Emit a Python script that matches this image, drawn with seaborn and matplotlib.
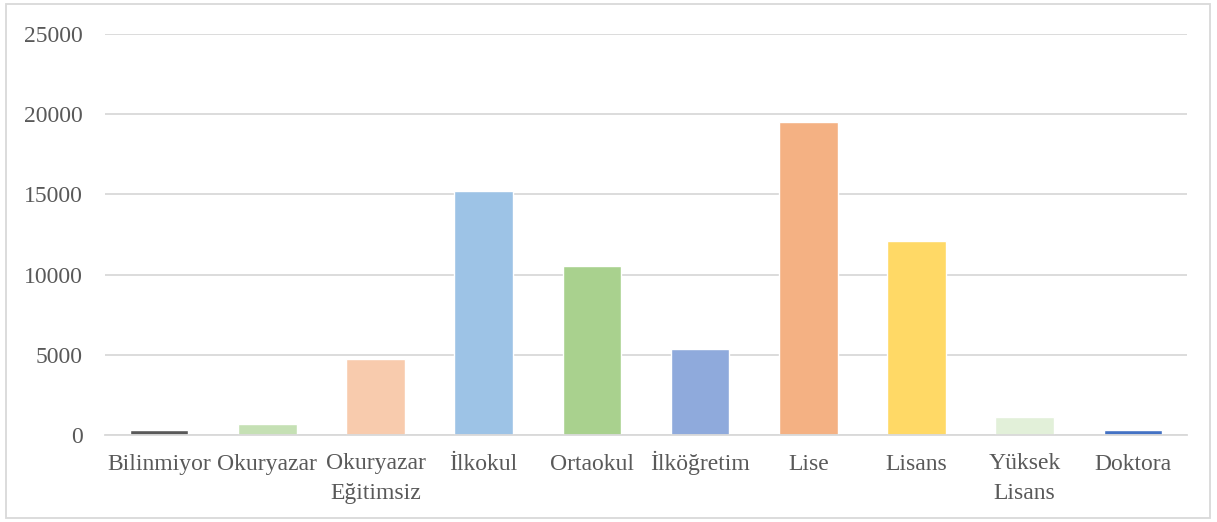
import matplotlib
matplotlib.use("Agg")
import matplotlib.pyplot as plt
import matplotlib.transforms as mtransforms
import seaborn as sns
import pandas as pd
from matplotlib.patches import Rectangle

# veriler
kategoriler = ["Bilinmiyor", "Okuryazar", "Okuryazar\nEğitimsiz", "İlkokul", "Ortaokul",
               "İlköğretim", "Lise", "Lisans", "Yüksek\nLisans", "Doktora"]
degerler = [300, 690, 4740, 15210, 10540, 5360, 19510, 12090, 1120, 300]
renkler = ["#595959", "#C5E0B4", "#F8CBAD", "#9DC3E6", "#A9D18E",
           "#8FAADC", "#F4B183", "#FFD966", "#E2F0D9", "#4472C4"]

df = pd.DataFrame({"egitim": kategoriler, "sayi": degerler})

sns.set_style("white")
plt.rcParams["font.family"] = ["Liberation Serif", "DejaVu Serif"]

fig = plt.figure(figsize=(12.17, 5.22), dpi=100)
ax = fig.add_axes([105 / 1217, 87 / 522, 1082 / 1217, 401 / 522])

sns.barplot(data=df, x="egitim", y="sayi", hue="egitim", palette=renkler,
            legend=False, width=0.54, saturation=1, ax=ax)

ax.set_ylim(0, 25000)
ax.set_yticks([0, 5000, 10000, 15000, 20000, 25000])
ax.yaxis.grid(True, color="#D9D9D9", linewidth=1.3)
ax.set_axisbelow(True)
for s in ["top", "right", "left"]:
    ax.spines[s].set_visible(False)
ax.spines["bottom"].set_color("#D9D9D9")
ax.spines["bottom"].set_linewidth(1.3)
ax.tick_params(axis="both", length=0, labelsize=17, labelcolor="#595959")
ax.tick_params(axis="y", pad=16)
ax.tick_params(axis="x", pad=25)
ax.set_xlabel("")
ax.set_ylabel("")

# etiketleri taban cizgisine hizala, iki satirlilari bir satir asagi kaydir
kaydir = mtransforms.ScaledTranslation(0, -0.29, fig.dpi_scale_trans)
for lbl in ax.get_xticklabels():
    lbl.set_linespacing(1.55)
    lbl.set_verticalalignment("baseline")
    if "\n" in lbl.get_text():
        lbl.set_transform(lbl.get_transform() + kaydir)

# dis cerceve
fig.patches.append(Rectangle((6 / 1217, 4 / 522), 1204 / 1217, 514 / 522,
                             transform=fig.transFigure, fill=False,
                             edgecolor="#D9D9D9", linewidth=1.3))

fig.savefig("out.png", dpi=100)
